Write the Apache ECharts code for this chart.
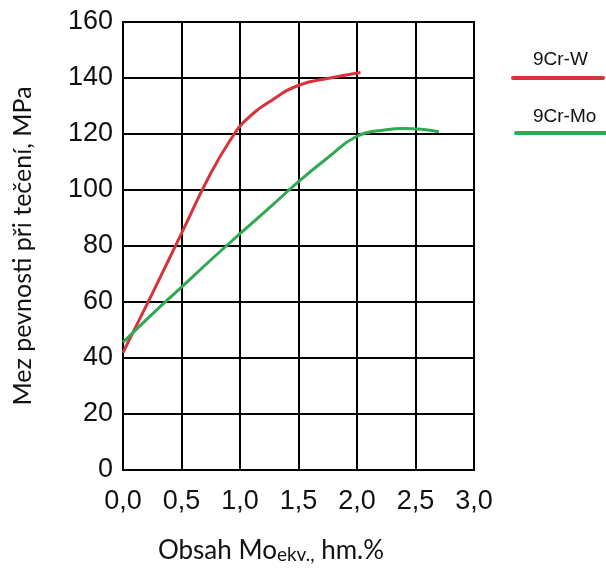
<!DOCTYPE html>
<html>
<head>
<meta charset="utf-8">
<script src="https://cdn.jsdelivr.net/npm/echarts@6/dist/echarts.min.js"></script>
<style>html,body{margin:0;padding:0;background:#fff;}#c{width:606px;height:572px;}</style>
</head>
<body>
<div id="c"></div>
<script>
// Data
var xTicks = [0, 0.5, 1.0, 1.5, 2.0, 2.5, 3.0];
var yTicks = [0, 20, 40, 60, 80, 100, 120, 140, 160];
var seriesNames = ['9Cr-W', '9Cr-Mo'];
var xW  = [0, 0.25, 0.5, 0.75, 0.94, 1.04, 1.27, 1.51, 1.76, 2.03];
var yW  = [41.9, 63, 84.5, 106, 119.3, 124.6, 132, 137.5, 139.9, 142];
var xMo = [0, 0.25, 0.5, 0.75, 1.0, 1.25, 1.5, 1.75, 2.0, 2.25, 2.4, 2.55, 2.7];
var yMo = [45.6, 55.7, 65.3, 75, 84.4, 93.6, 103, 111.5, 119.2, 121.5, 122, 121.7, 120.8];

function pairs(xs, ys){ return xs.map(function(x,i){ return [x, ys[i]]; }); }

var chart = echarts.init(document.getElementById('c'), null, {renderer:'canvas'});
var sansTick = '"Liberation Sans", Arial, sans-serif';
var titleFont = 'Lato, "Open Sans", sans-serif';
chart.setOption({
  animation: false,
  backgroundColor: '#fff',
  grid: {left: 123, right: 132, top: 22, bottom: 102, show: true, borderColor: '#000', borderWidth: 2},
  xAxis: {
    type: 'value', min: xTicks[0], max: xTicks[xTicks.length-1], interval: 0.5,
    axisLine: {show: true, lineStyle: {color: '#000', width: 2}},
    axisTick: {show: false},
    splitLine: {show: true, lineStyle: {color: '#000', width: 2}},
    axisLabel: {
      fontFamily: sansTick, fontSize: 27, color: '#111', margin: 18,
      formatter: function(v){ return v.toFixed(1).replace('.', ','); }
    },
    name: '{a|Obsah Mo}{b|ekv.,}{a| hm.%}',
    nameLocation: 'middle', nameGap: 68,
    nameTextStyle: {
      padding: [0, 55, 0, 0],
      rich: {
        a: {fontFamily: titleFont, fontSize: 26, color: '#111'},
        b: {fontFamily: titleFont, fontSize: 19, color: '#111', verticalAlign: 'bottom', padding: [6,0,0,0]}
      }
    }
  },
  yAxis: {
    type: 'value', min: yTicks[0], max: yTicks[yTicks.length-1], interval: 20,
    axisLine: {show: true, lineStyle: {color: '#000', width: 2}},
    axisTick: {show: false},
    splitLine: {show: true, lineStyle: {color: '#000', width: 2}},
    axisLabel: {fontFamily: sansTick, fontSize: 27, color: '#111', margin: 10},
    name: 'Mez pevnosti při tečení, MPa',
    nameLocation: 'middle', nameGap: 88, nameRotate: 90,
    nameTextStyle: {fontFamily: titleFont, fontSize: 25, color: '#111'}
  },
  series: [
    {name: seriesNames[0], type: 'line', data: pairs(xW, yW), smooth: 0.5, showSymbol: false,
     lineStyle: {color: '#d8333c', width: 3}, itemStyle: {color: '#d8333c'}},
    {name: seriesNames[1], type: 'line', data: pairs(xMo, yMo), smooth: 0.5, showSymbol: false,
     lineStyle: {color: '#31a852', width: 3}, itemStyle: {color: '#31a852'}}
  ],
  graphic: [
    {type: 'text', left: 533, top: 50, style: {text: seriesNames[0], font: '19px "Liberation Sans", Arial, sans-serif', fill: '#111'}},
    {type: 'line', shape: {x1: 513, y1: 78, x2: 603, y2: 78}, style: {stroke: '#d8333c', lineWidth: 4, lineCap: 'round'}},
    {type: 'text', left: 533, top: 107, style: {text: seriesNames[1], font: '19px "Liberation Sans", Arial, sans-serif', fill: '#111'}},
    {type: 'line', shape: {x1: 516, y1: 133, x2: 606, y2: 133}, style: {stroke: '#31a852', lineWidth: 4, lineCap: 'round'}}
  ]
});
</script>
</body>
</html>
